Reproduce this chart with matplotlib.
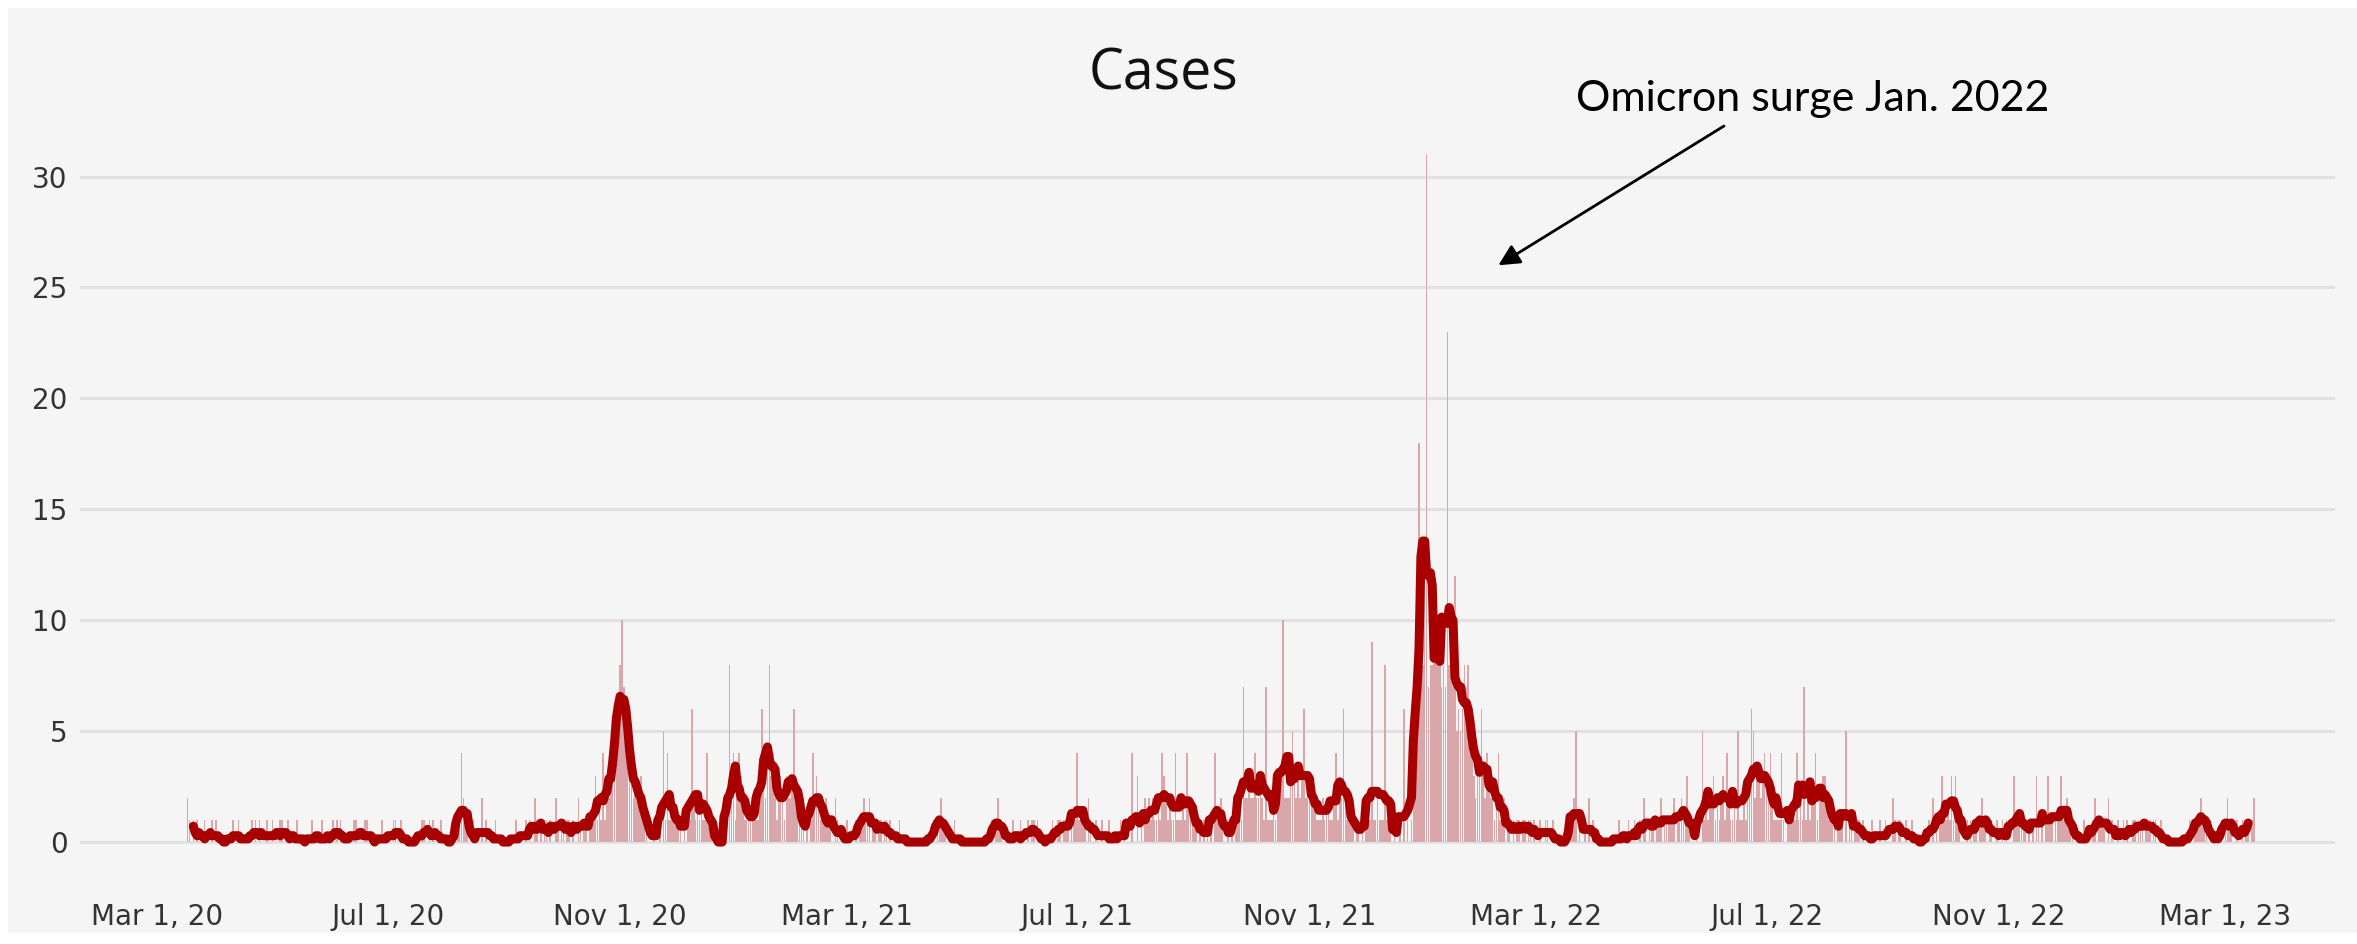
import numpy as np
import pandas as pd
import matplotlib
matplotlib.use('Agg')
import matplotlib.pyplot as plt
from matplotlib.patches import Rectangle

# ---------------- data (daily cases) ----------------
start_2020 = '2020-03-17'
cases_2020 = [
    2,1,0,1,0,1,0,0,0,1, 0,0,0,1,0,1,0,0,0,0, 0,0,0,0,1,0,0,1,0,0,
    0,0,0,0,1,0,1,0,1,0, 0,0,1,0,0,1,0,0,0,1, 1,0,0,1,0,0,0,0,1,0,
    0,0,0,0,0,0,1,0,0,0, 0,1,0,0,0,0,0,1,0,1, 0,1,0,0,0,0,0,0,1,1,
    0,0,0,0,1,1,0,0,0,0, 0,0,0,1,0,0,0,0,0,1, 1,0,0,1,0,0,0,0,0,0,
    0,0,0,0,1,1,0,0,1,0, 1,0,0,0,1,0,0,0,0,0, 0,0,0,1,1,4,2,1,1,0,
    0,1,0,0,0,0,2,0,1,0, 0,0,0,1,0,0,0,0,0,0, 0,0,0,0,1,0,0,0,0,1,
    0,1,0,0,2,1,0,1,0,1, 1,0,1,0,0,2,1,0,1,1, 0,1,1,0,1,0,0,2,1,0,
    1,1,0,1,1,1,3,1,2,1, 4,1,2,2,3,3,5,4,6,8, 10,7,6,4,4,3,2,3,2,2,
    3,2,1,1,0,0,0,1,0,0, 1,0,5,1,4,1,1,2,1,1, 1,1,0,1,0,1,1,6,2,1,
    2,1,2,1,1,4,1,1,0,0, 0,0,0,0,0,0,0,8,2,4,
]
start_2021 = '2021-01-01'
cases_2021 = [
    1,2,4,3,2,1,1,1,1,1, 2,1,1,2,6,3,2,4,8,3, 4,2,1,2,3,2,1,3,2,2,
    3,6,2,2,1,1,1,0,1,0, 1,4,2,3,2,1,1,1,2,1, 1,0,0,2,1,0,0,0,0,1,
    0,0,0,0,1,0,1,1,2,1, 1,2,0,1,1,0,1,1,0,1, 1,0,1,0,0,0,0,1,0,0,
    0,0,0,0,0,0,0,0,0,0, 0,0,0,0,0,1,0,1,1,2, 1,1,0,0,0,0,1,0,0,0,
    0,0,0,0,0,0,0,0,0,0, 0,0,0,0,0,0,1,0,1,2, 1,1,0,0,0,0,0,1,0,0,
    0,1,0,0,0,1,0,1,1,0, 1,0,0,0,0,0,0,0,1,0, 0,1,1,0,1,1,1,0,1,1,
    1,4,1,1,1,1,0,2,1,0, 0,1,0,0,1,0,0,0,1,0, 0,0,0,0,1,0,1,0,0,0,
    4,0,0,3,0,1,0,2,1,2, 1,2,1,1,2,1,4,3,2,1, 2,1,1,4,1,1,1,2,1,4,
    2,1,2,1,1,0,1,0,1,0, 1,0,1,0,4,1,1,2,1,0, 0,1,0,1,0,1,2,2,1,7,
    2,2,3,2,2,4,2,2,3,2, 1,7,1,1,1,2,1,2,2,3, 10,2,2,2,3,5,3,2,3,2,
    3,6,2,3,2,3,2,2,1,1, 1,2,1,2,2,1,1,2,4,1, 2,2,6,2,1,2,1,1,0,1,
    1,0,1,0,1,1,1,9,1,1, 2,1,1,1,8,1,1,1,0,1, 0,0,1,0,6,0,1,0,1,2,
    2,8,18,10,8,
]
start_2022 = '2022-01-01'
cases_2022 = [
    13,31,7,8,8,9,9,9,8,7, 8,7,23,8,9,7,12,5,6,5, 6,8,7,8,4,6,3,2,3,3,
    6,3,2,4,3,2,3,1,2,4, 1,1,2,0,1,1,0,1,0,1, 1,0,1,1,0,1,1,0,1,0,
    0,1,0,0,1,1,0,0,1,0, 0,0,0,0,0,0,0,0,1,2, 5,0,1,0,0,1,0,2,0,1,
    0,0,0,0,0,0,0,0,0,0, 0,0,0,1,0,0,0,0,1,0, 0,1,0,0,1,0,2,1,0,1,
    1,1,0,1,1,2,0,1,1,1, 1,1,2,0,1,1,2,1,1,3, 1,0,0,0,1,0,0,5,1,2,
    1,2,2,3,1,2,1,2,3,1, 4,2,1,1,2,1,5,1,1,2, 1,2,2,6,5,2,3,3,2,3,
    4,3,2,4,2,1,1,1,1,4, 1,0,1,1,1,2,1,4,1,2, 1,7,1,2,1,2,2,4,1,2,
    2,3,3,2,1,2,1,1,0,1, 1,1,0,5,0,1,1,0,1,1, 1,0,1,0,0,0,0,1,0,0,
    0,1,0,0,1,0,0,0,2,1, 0,1,1,0,0,1,0,0,1,0, 0,0,0,0,0,0,0,1,0,2,
    0,1,0,1,3,1,1,2,1,3, 1,3,2,1,0,0,0,1,0,1, 0,1,1,0,1,2,1,1,0,1,
    1,0,0,1,0,0,1,0,1,0, 0,0,3,1,1,1,1,1,1,0, 1,0,1,0,3,1,0,1,0,1,
    3,1,1,0,1,1,1,3,1,1, 2,1,1,1,0,0,0,0,0,1, 0,0,0,0,1,2,0,1,1,1,
    1,0,2,0,1,
]
start_2023 = '2023-01-01'
cases_2023 = [
    0,0,1,0,0,
    1,0,1,0,0,1,1,0,1,1, 1,0,1,1,1,0,1,1,0,0, 1,0,0,0,0,0,0,0,0,0,
    0,0,0,0,0,1,0,0,1,1, 1,2,1,1,1,0,1,0,0,0, 0,0,1,0,1,2,1,1,0,0,
    1,0,0,1,0,1,1,0,1,2,
]

tick_dates = ['2020-03-01', '2020-07-01', '2020-11-01', '2021-03-01', '2021-07-01',
              '2021-11-01', '2022-03-01', '2022-07-01', '2022-11-01', '2023-03-01']
tick_labels = ['Mar 1, 20', 'Jul 1, 20', 'Nov 1, 20', 'Mar 1, 21', 'Jul 1, 21',
               'Nov 1, 21', 'Mar 1, 22', 'Jul 1, 22', 'Nov 1, 22', 'Mar 1, 23']
y_ticks = [0, 5, 10, 15, 20, 25, 30]
title_text = 'Cases'
note_text = 'Omicron surge Jan. 2022'
note_date = '2022-02-09'
note_value = 26

# ---------------- assemble series ----------------
parts = []
for st, vals in [(start_2020, cases_2020), (start_2021, cases_2021),
                 (start_2022, cases_2022), (start_2023, cases_2023)]:
    parts.append(pd.Series(vals, index=pd.date_range(st, periods=len(vals), freq='D')))
daily = pd.concat(parts)
daily = daily.asfreq('D', fill_value=0)
avg7 = daily.rolling(7, center=True).mean()

# ---------------- figure ----------------
W, H = 2357, 944
fig = plt.figure(figsize=(W / 100, H / 100), dpi=100, facecolor='white')
fig.patches.append(Rectangle((8 / W, 1 - 933 / H), 1, (933 - 8) / H,
                             transform=fig.transFigure, facecolor='#f5f5f5',
                             edgecolor='none', zorder=-10))

ax = fig.add_axes([80 / W, 1 - 870 / H, (2335 - 80) / W, (870 - 130) / H])
ax.set_facecolor('none')
ax.set_zorder(1)

origin = pd.Timestamp('2020-03-01')
ax.set_xlim(origin - pd.Timedelta(days=41), origin + pd.Timedelta(days=1153))
ax.set_ylim(-1.26, 32.1)

ax.bar(daily.index, daily.values, width=0.85, color='#d9a7aa', linewidth=0, zorder=2)
ax.plot(avg7.index, avg7.values, color='#a80000', lw=6.5,
        solid_capstyle='round', solid_joinstyle='round', zorder=3)

ax.set_yticks(y_ticks)
ax.set_yticklabels([str(v) for v in y_ticks])
ax.set_xticks(pd.to_datetime(tick_dates))
ax.set_xticklabels(tick_labels)
ax.tick_params(axis='both', length=0, labelsize=20, colors='#333333')
ax.tick_params(axis='x', pad=24)
ax.tick_params(axis='y', pad=9)
ax.yaxis.grid(True, color='#e2e2e2', lw=2.2)
ax.xaxis.grid(False)
ax.set_axisbelow(True)
for sp in ax.spines.values():
    sp.set_visible(False)

fig.text(1163 / W, 1 - 75 / H, title_text, ha='center', va='center',
         fontsize=40, family='Open Sans', color='#111111')
fig.text(1813 / W, 1 - 99 / H, note_text, ha='center', va='center',
         fontsize=31, family='Lato', color='black')
ax.annotate('', xy=(pd.Timestamp(note_date), note_value), xycoords='data',
            xytext=(1724 / W, 1 - 126 / H), textcoords='figure fraction',
            arrowprops=dict(arrowstyle='-|>', color='black', lw=2,
                            mutation_scale=32, shrinkA=0, shrinkB=0),
            annotation_clip=False)

fig.savefig('out.png', dpi=100, facecolor=fig.get_facecolor())
